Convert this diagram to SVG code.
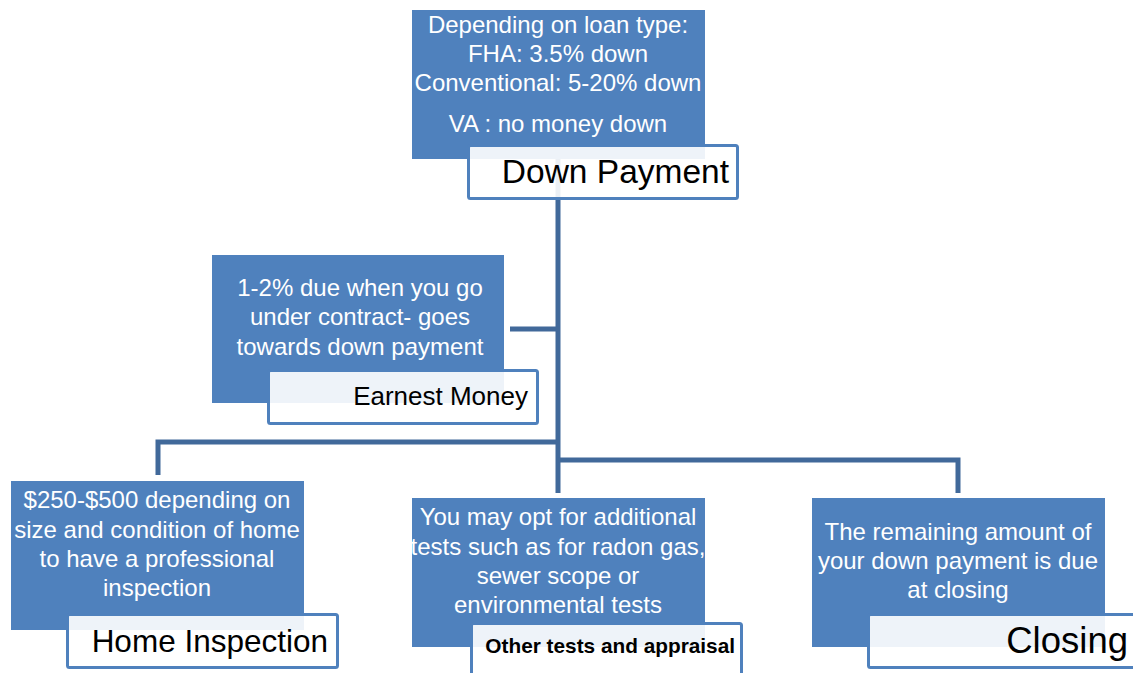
<svg xmlns="http://www.w3.org/2000/svg" width="1133" height="673" viewBox="0 0 1133 673">
<style>
.box{fill:#4F81BD;}
.lbl{fill:#FFFFFF;fill-opacity:0.9;stroke:#4F81BD;stroke-width:3;}
.wt{font-family:"Liberation Sans",Arial,sans-serif;font-size:24px;fill:#FFFFFF;text-anchor:middle;}
.bt{font-family:"Liberation Sans",Arial,sans-serif;fill:#000000;text-anchor:end;}
.con{fill:none;stroke:#41699A;stroke-width:5;stroke-linejoin:miter;}
</style>
<rect width="1133" height="673" fill="#FFFFFF"/>
<g id="connectors">
<path class="con" d="M558 159 V493"/>
<path class="con" d="M510 329 H558"/>
<path class="con" d="M558 442 H158 V475"/>
<path class="con" d="M558 460 H958 V493"/>
</g>
<g id="down-payment">
<rect class="box" x="412" y="10" width="293" height="149"/>
<text class="wt" x="558" y="33">Depending on loan type:</text>
<text class="wt" x="558" y="62">FHA: 3.5% down</text>
<text class="wt" x="558" y="91">Conventional: 5-20% down</text>
<text class="wt" x="558" y="132">VA : no money down</text>
<rect class="lbl" x="468.5" y="145.5" width="269" height="53" rx="2"/>
<text class="bt" x="729" y="183" font-size="33.5">Down Payment</text>
</g>
<g id="earnest-money">
<rect class="box" x="212" y="255" width="292" height="148"/>
<text class="wt" x="360" y="296">1-2% due when you go</text>
<text class="wt" x="360" y="325">under contract- goes</text>
<text class="wt" x="360" y="355">towards down payment</text>
<rect class="lbl" x="268.5" y="370.5" width="269" height="53" rx="2"/>
<text class="bt" x="528" y="405" font-size="26">Earnest Money</text>
</g>
<g id="home-inspection">
<rect class="box" x="11" y="481" width="293" height="149"/>
<text class="wt" x="157" y="508">$250-$500 depending on</text>
<text class="wt" x="157" y="538">size and condition of home</text>
<text class="wt" x="157" y="567">to have a professional</text>
<text class="wt" x="157" y="596">inspection</text>
<rect class="lbl" x="67.5" y="614.5" width="270" height="53" rx="2"/>
<text class="bt" x="328" y="652" font-size="31.5">Home Inspection</text>
</g>
<g id="other-tests">
<rect class="box" x="412" y="498" width="293" height="149"/>
<text class="wt" x="558" y="525">You may opt for additional</text>
<text class="wt" x="558" y="555">tests such as for radon gas,</text>
<text class="wt" x="558" y="584">sewer scope or</text>
<text class="wt" x="558" y="613">environmental tests</text>
<rect class="lbl" x="471.5" y="623.5" width="270" height="53" rx="2"/>
<text class="bt" x="735" y="653" font-size="20.8" font-weight="bold">Other tests and appraisal</text>
</g>
<g id="closing">
<rect class="box" x="812" y="498" width="293" height="149"/>
<text class="wt" x="958" y="540">The remaining amount of</text>
<text class="wt" x="958" y="569">your down payment is due</text>
<text class="wt" x="958" y="598">at closing</text>
<rect class="lbl" x="868.5" y="614.5" width="270" height="53" rx="2"/>
<text class="bt" x="1128" y="653" font-size="36.5">Closing</text>
</g>
</svg>
